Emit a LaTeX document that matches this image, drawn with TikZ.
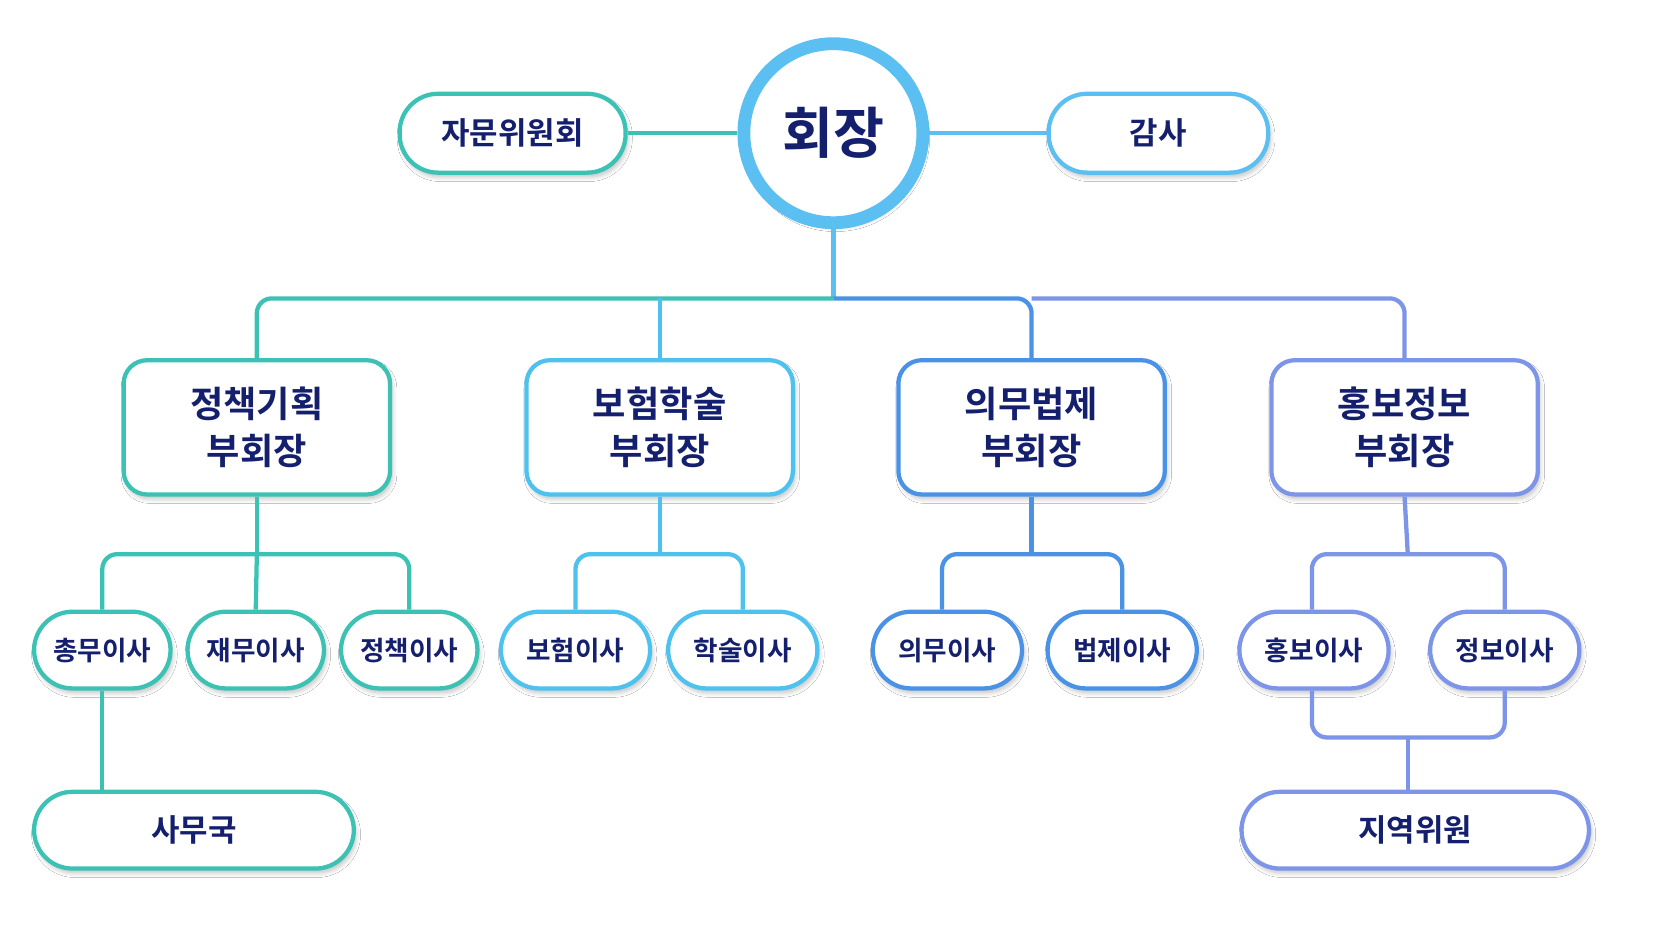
\documentclass[tikz,border=0pt]{standalone}
\usepackage{fontspec}
\setmainfont{Noto Sans CJK KR}[BoldFont={* Bold}]
\usetikzlibrary{shadows.blur}
\definecolor{cA}{HTML}{3BC2B4}
\definecolor{cB}{HTML}{4EC2EE}
\definecolor{cC}{HTML}{4A92E6}
\definecolor{cD}{HTML}{7D95E8}
\definecolor{cLB}{HTML}{5BBFF2}
\definecolor{txt}{HTML}{14206E}
\begin{document}
\begin{tikzpicture}[x=0.5pt,y=-0.5pt,
  base/.style={draw, line width=2pt, fill=white, text=txt, font=\bfseries, align=center, inner sep=0pt,
    blur shadow={shadow xshift=1pt, shadow yshift=-2pt, shadow blur steps=6, shadow opacity=25}},
  pill/.style={base, rounded corners=18pt, minimum height=36pt},
  vp/.style={base, rounded corners=11pt, minimum width=125pt, minimum height=63pt, font=\bfseries\fontsize{17}{22}\selectfont},
  dir/.style={pill, minimum width=64pt, font=\bfseries\fontsize{12.5}{15}\selectfont},
  ln/.style={line width=2pt, rounded corners=7pt}]
\fill[white] (0,0) rectangle (1568,883);
\useasboundingbox (0,0) rectangle (1568,883);
% top
\node[pill, draw=cA, minimum width=106pt, minimum height=37pt, font=\bfseries\fontsize{14.5}{17}\selectfont] (adv) at (481,125) {자문위원회};
\node[pill, draw=cLB, minimum width=103pt, minimum height=37pt, font=\bfseries\fontsize{14.5}{17}\selectfont] (aud) at (1087,125) {감사};
\node[base, circle, draw=cLB, line width=6pt, minimum size=84pt, font=\bfseries\fontsize{26}{30}\selectfont] (pres) at (782,125) {회장};
\draw[line width=2pt, left color=cA, right color=cLB, draw=cA] (adv.east) -- (pres.west);
\draw[line width=2pt, draw=cLB] (pres.east) -- (aud.west);
% VPs
\node[vp, draw=cA] (v1) at (241,401) {정책기획\\부회장};
\node[vp, draw=cB] (v2) at (619,401) {보험학술\\부회장};
\node[vp, draw=cC] (v3) at (968,401) {의무법제\\부회장};
\node[vp, draw=cD] (v4) at (1318,401) {홍보정보\\부회장};
\coordinate (j0) at (782,280);
\draw[ln, cLB] (pres.south) -- (j0);
\draw[ln, cA] (j0) -| (v1.north);
\draw[ln, cB] (v2.north) -- (v2.north |- j0);
\draw[ln, cC] (j0) -| (v3.north);
\draw[ln, cD] (v3.north |- j0) -| (v4.north);
% directors
\node[dir, draw=cA] (d1) at (96,610) {총무이사};
\node[dir, draw=cA] (d2) at (240,610) {재무이사};
\node[dir, draw=cA] (d3) at (384,610) {정책이사};
\node[dir, draw=cB, minimum width=70pt] (d4) at (540,610) {보험이사};
\node[dir, draw=cB, minimum width=70pt] (d5) at (697,610) {학술이사};
\node[dir, draw=cC, minimum width=70pt] (d6) at (889,610) {의무이사};
\node[dir, draw=cC, minimum width=70pt] (d7) at (1053,610) {법제이사};
\node[dir, draw=cD, minimum width=70pt] (d8) at (1233,610) {홍보이사};
\node[dir, draw=cD, minimum width=70pt] (d9) at (1412,610) {정보이사};
\draw[ln, cA] (v1.south) -- (241,520);
\draw[ln, cA] (d1.north) |- (241,520) -| (d3.north);
\draw[ln, cA] (241,520) -- (d2.north);
\draw[ln, cB] (v2.south) -- (619,520);
\draw[ln, cB] (d4.north) |- (619,520) -| (d5.north);
\draw[ln, cC] (v3.south) -- (968,520);
\draw[ln, cC] (d6.north -| 884,0) |- (968,520) -| (d7.north);
\draw[ln, cD] (v4.south) -- (1321,520);
\draw[ln, cD] (d8.north -| 1231,0) |- (1321,520) -| (d9.north);
% bottom
\node[pill, draw=cA, minimum width=150pt, font=\bfseries\fontsize{14.5}{17}\selectfont] (sec) at (182,779) {사무국};
\node[pill, draw=cD, minimum width=163pt, font=\bfseries\fontsize{14.5}{17}\selectfont] (reg) at (1328,779) {지역위원};
\draw[ln, cA] (d1.south) -- (sec.north -| d1.south);
\draw[ln, cD] (d8.south -| 1231,0) |- (1321,692) -| (d9.south);
\draw[ln, cD] (1321,692) -- (1321,743);
\end{tikzpicture}
\end{document}
